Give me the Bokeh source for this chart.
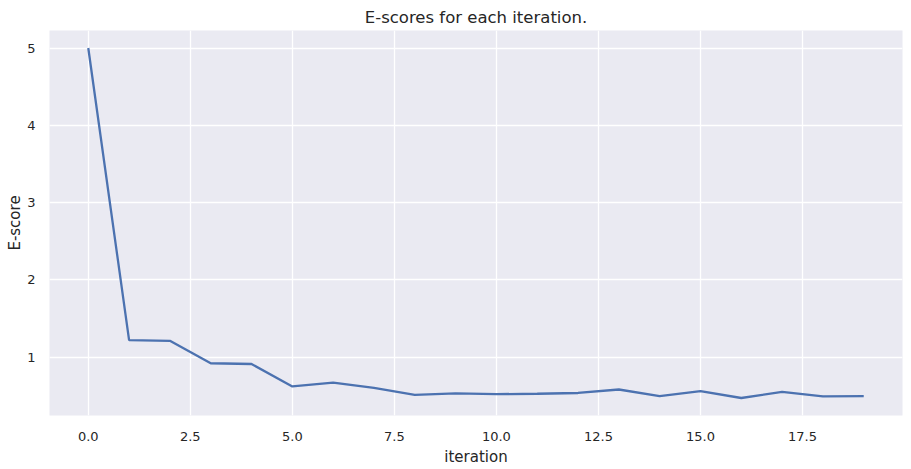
from bokeh.plotting import figure
from bokeh.models import FixedTicker, PrintfTickFormatter, Range1d
from bokeh.embed import file_html
from bokeh.resources import INLINE

iterations = [0, 1, 2, 3, 4, 5, 6, 7, 8, 9, 10, 11, 12, 13, 14, 15, 16, 17, 18, 19]
e_scores = [5.0, 1.22, 1.21, 0.92, 0.91, 0.62, 0.67, 0.60, 0.51, 0.53,
            0.52, 0.525, 0.535, 0.58, 0.495, 0.56, 0.47, 0.55, 0.49, 0.495]
x_ticks = [0, 2.5, 5, 7.5, 10, 12.5, 15, 17.5]
y_ticks = [1, 2, 3, 4, 5]

FONT = "DejaVu Sans"
TXT = "#262626"

p = figure(width=911, height=469, output_backend="svg", toolbar_location=None,
           title="E-scores for each iteration.",
           x_range=Range1d(-0.95, 19.95), y_range=Range1d(0.2435, 5.2265),
           min_border_left=49, min_border_right=9, min_border_top=30, min_border_bottom=54)

p.background_fill_color = "#EAEAF2"
p.border_fill_color = "white"
p.outline_line_color = None

p.title.text_font = FONT
p.title.text_font_size = "16.5px"
p.title.text_font_style = "normal"
p.title.text_color = TXT
p.title.align = "center"
p.title.standoff = 8

p.line(iterations, e_scores, line_color="#4C72B0", line_width=2.3)

p.xaxis.ticker = FixedTicker(ticks=x_ticks)
p.xaxis.formatter = PrintfTickFormatter(format="%.1f")
p.yaxis.ticker = FixedTicker(ticks=y_ticks)
p.yaxis.formatter = PrintfTickFormatter(format="%d")

p.xaxis.axis_label = "iteration"
p.yaxis.axis_label = "E-score"

for ax in (p.xaxis, p.yaxis):
    ax.axis_line_color = None
    ax.major_tick_line_color = None
    ax.minor_tick_line_color = None
    ax.major_label_text_font = FONT
    ax.major_label_text_font_size = "13px"
    ax.major_label_text_color = TXT
    ax.axis_label_text_font = FONT
    ax.axis_label_text_font_size = "15px"
    ax.axis_label_text_font_style = "normal"
    ax.axis_label_text_color = TXT

p.xaxis.major_label_standoff = 10
p.xaxis.axis_label_standoff = 4
p.yaxis.major_label_standoff = 8
p.yaxis.axis_label_standoff = 0

p.grid.grid_line_color = "white"
p.grid.grid_line_width = 1.3

open("out.html", "w").write(file_html(p, INLINE))
